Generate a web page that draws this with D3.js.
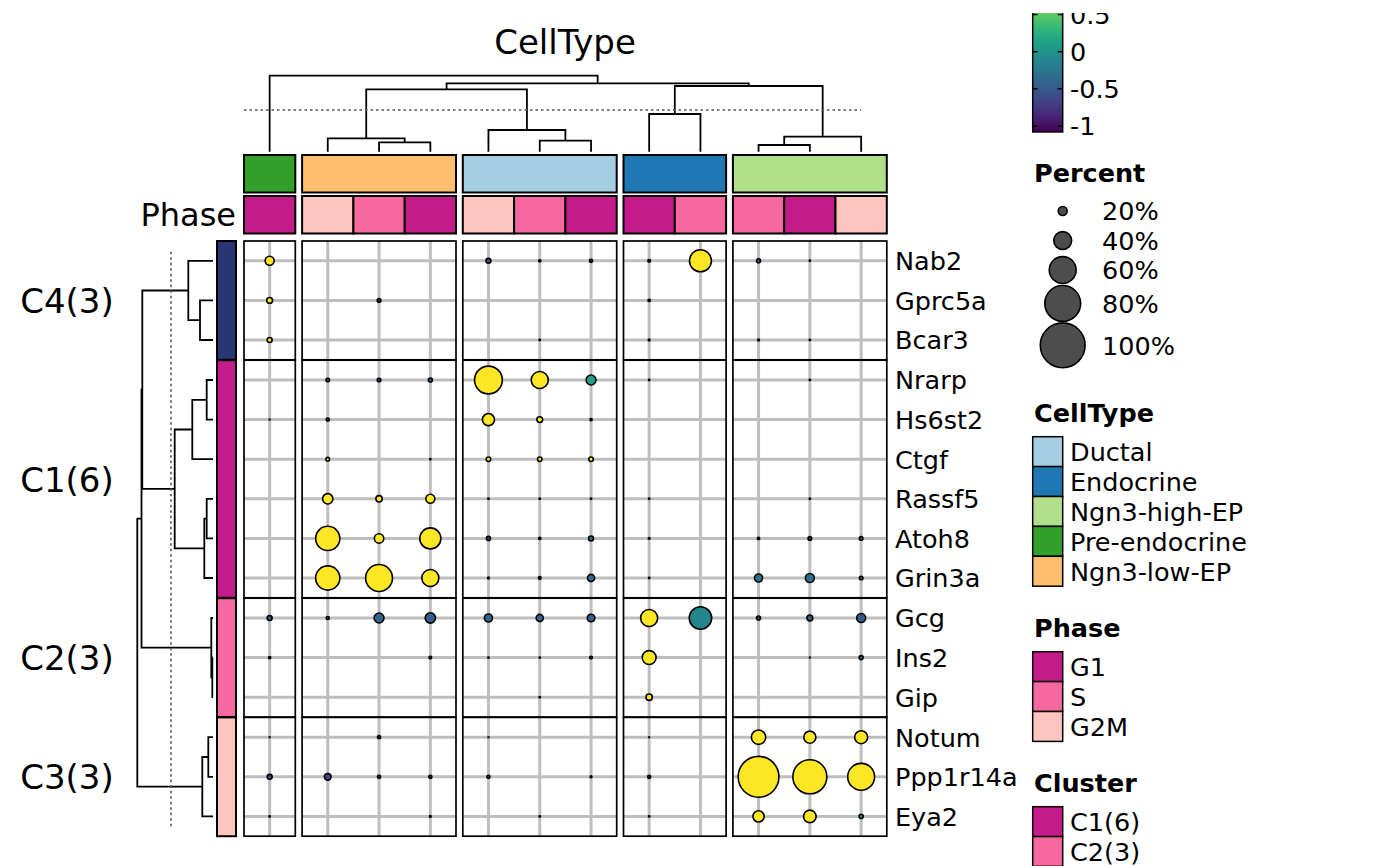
<!DOCTYPE html>
<html>
<head>
<meta charset="utf-8">
<script src="https://cdn.jsdelivr.net/npm/d3@7"></script>
<style>
body { margin: 0; background: #fff; }
text { font-family: "DejaVu Sans", sans-serif; fill: #000; }
</style>
</head>
<body>
<div id="chart"></div>
<script>
var genes = ["Nab2", "Gprc5a", "Bcar3", "Nrarp", "Hs6st2", "Ctgf", "Rassf5", "Atoh8", "Grin3a",
             "Gcg", "Ins2", "Gip", "Notum", "Ppp1r14a", "Eya2"];
var geneCluster = ["C4(3)", "C4(3)", "C4(3)", "C1(6)", "C1(6)", "C1(6)", "C1(6)", "C1(6)", "C1(6)",
                   "C2(3)", "C2(3)", "C2(3)", "C3(3)", "C3(3)", "C3(3)"];
var clusterOrder = ["C4(3)", "C1(6)", "C2(3)", "C3(3)"];
var clusterLegend = ["C1(6)", "C2(3)", "C3(3)", "C4(3)"];
var clusterColors = ["#C51B8A", "#F768A1", "#FCC5C0", "#283673"];

var colCellType = ["Pre-endocrine", "Ngn3-low-EP", "Ngn3-low-EP", "Ngn3-low-EP", "Ductal", "Ductal", "Ductal",
                   "Endocrine", "Endocrine", "Ngn3-high-EP", "Ngn3-high-EP", "Ngn3-high-EP"];
var colPhase = ["G1", "G2M", "S", "G1", "G2M", "S", "G1", "G1", "S", "S", "G1", "G2M"];
var cellTypeOrder = ["Pre-endocrine", "Ngn3-low-EP", "Ductal", "Endocrine", "Ngn3-high-EP"];
var cellTypeLegend = ["Ductal", "Endocrine", "Ngn3-high-EP", "Pre-endocrine", "Ngn3-low-EP"];
var cellTypeColors = ["#A6CEE3", "#1F78B4", "#B2DF8A", "#33A02C", "#FDBF6F"];
var phaseLegend = ["G1", "S", "G2M"];
var phaseColors = ["#C51B8A", "#F768A1", "#FCC5C0"];

// percent of cells expressing, rows = genes, cols = columns above
var percent = [
  [20, 0, 0, 0, 11, 5, 7, 6, 49, 9, 3, 0],
  [13, 0, 8, 0, 0, 0, 0, 5, 0, 0, 0, 0],
  [11, 0, 0, 0, 0, 3, 0, 4, 0, 4, 3, 0],
  [0, 8, 8, 9, 62, 38, 22, 3, 0, 0, 3, 0],
  [2, 7, 0, 0, 27, 13, 5, 0, 0, 0, 0, 0],
  [0, 8, 0, 3, 10, 10, 10, 0, 0, 0, 0, 0],
  [0, 23, 14, 20, 3, 3, 3, 3, 0, 0, 3, 0],
  [0, 54, 21, 47, 9, 5, 11, 4, 0, 5, 8, 8],
  [0, 54, 60, 38, 4, 6, 16, 3, 0, 18, 20, 8],
  [11, 7, 22, 23, 18, 16, 17, 38, 50, 9, 13, 20],
  [5, 0, 0, 6, 3, 3, 6, 31, 0, 0, 2, 9],
  [0, 0, 0, 0, 0, 3, 0, 14, 0, 0, 0, 0],
  [2, 0, 7, 0, 2, 0, 0, 2, 0, 32, 27, 29],
  [11, 15, 7, 7, 7, 0, 4, 7, 0, 91, 76, 60],
  [3, 0, 0, 4, 0, 3, 0, 3, 0, 25, 28, 9]
];
// scaled average expression
var expr = [
  [1.1, 0, 0, 0, -0.55, -0.8, -0.8, -0.8, 1.1, -0.4, -0.8, 0],
  [1.1, 0, -0.8, 0, 0, 0, 0, -0.8, 0, 0, 0, 0],
  [1.1, 0, 0, 0, 0, -0.8, 0, -0.8, 0, -0.8, -0.8, 0],
  [0, -0.8, -0.8, -0.45, 1.1, 1.1, 0.1, -0.8, 0, 0, -0.8, 0],
  [-0.8, -0.8, 0, 0, 1.1, 1.1, -0.8, 0, 0, 0, 0, 0],
  [0, 1.1, 0, -0.8, 1.1, 1.1, 1.1, 0, 0, 0, 0, 0],
  [0, 1.1, 1.1, 1.1, -0.8, -0.8, -0.8, -0.8, 0, 0, -0.8, 0],
  [0, 1.1, 1.1, 1.1, -0.7, -0.8, -0.3, -0.8, 0, -0.8, -0.7, -0.4],
  [0, 1.1, 1.1, 1.1, -0.8, -0.8, -0.35, -0.8, 0, -0.3, -0.3, -0.6],
  [-0.5, -0.8, -0.4, -0.45, -0.4, -0.4, -0.45, 1.1, -0.12, -0.8, -0.4, -0.5],
  [-0.8, 0, 0, -0.8, -0.8, -0.8, -0.8, 1.1, 0, 0, -0.8, -0.45],
  [0, 0, 0, 0, 0, -0.8, 0, 1.1, 0, 0, 0, 0],
  [-0.8, 0, -0.8, 0, -0.8, 0, 0, -0.8, 0, 1.1, 1.1, 1.1],
  [-0.6, -0.7, -0.8, -0.8, -0.8, 0, -0.8, -0.8, 0, 1.1, 1.1, 1.1],
  [-0.8, 0, 0, -0.8, 0, -0.8, 0, -0.8, 0, 1.1, 1.1, 0.05]
];

// dendrograms: [height, left, right], leaves are column / row indices
var colTree = [7.6, 0, [6.84, [6.24, [1.34, 1, [0.94, 2, 3]], [2.17, 4, [1.1, 5, 6]]],
                             [6.57, [3.77, 7, 8], [1.5, [0.67, 9, 10], 11]]]];
var colCut = 4.17;
var rowTree = [7.57, [7.15, [7.07, [2.47, 0, [1.3, 1, 2]],
                                   [3.83, [2.07, [0.63, 3, 4], 5], [0.87, [0.63, 6, 7], 8]]],
                            [0.17, 9, [0.07, 10, 11]]],
                     [1.07, [0.47, 12, 13], 14]];
var rowCut = 4.2;

var sizeBreaks = [20, 40, 60, 80, 100];
var colorTicks = [-1, -0.5, 0, 0.5, 1];
var colorDomain = [-1.08, 1.03];

var W = 1400, H = 866;
var svg = d3.select("#chart").append("svg")
  .attr("width", W)
  .attr("height", H);

var colW = 51.3, colGap = 6.8, rowH = 39.6, rowGap = 0.4;
var bodyX = 244, bodyY = 241;
var colGroup = colCellType.map(function(c) { return cellTypeOrder.indexOf(c); });
var rowGroup = geneCluster.map(function(c) { return clusterOrder.indexOf(c); });

var xBand = d3.scaleBand().domain(d3.range(colCellType.length)).range([0, colW * colCellType.length]);
var yBand = d3.scaleBand().domain(d3.range(genes.length)).range([0, rowH * genes.length]);
function colLeft(i) { return bodyX + xBand(i) + colGroup[i] * colGap; }
function rowTop(j) { return bodyY + yBand(j) + rowGroup[j] * rowGap; }
function cx(i) { return colLeft(i) + xBand.bandwidth() / 2; }
function cy(j) { return rowTop(j) + yBand.bandwidth() / 2; }

var size = d3.scaleLinear().domain([0, 100]).range([0, 22.4]);
var color = d3.scaleSequential(d3.interpolateViridis).domain(colorDomain).clamp(true);

function groupExtent(groups, n, left, band) {
  return n.map(function(g) {
    var idx = d3.range(groups.length).filter(function(k) { return groups[k] === g; });
    return { g: g, idx: idx, a: left(idx[0]), b: left(idx[idx.length - 1]) + band.bandwidth() };
  });
}
var colBlocks = groupExtent(colGroup, d3.range(cellTypeOrder.length), colLeft, xBand);
var rowBlocks = groupExtent(rowGroup, d3.range(clusterOrder.length), rowTop, yBand);

// body blocks
colBlocks.forEach(function(cb) {
  rowBlocks.forEach(function(rb) {
    var blk = svg.append("g");
    blk.append("rect")
      .attr("x", cb.a).attr("y", rb.a)
      .attr("width", cb.b - cb.a).attr("height", rb.b - rb.a)
      .attr("fill", "white");
    blk.selectAll("line.v").data(cb.idx).enter().append("line")
      .attr("x1", cx).attr("x2", cx)
      .attr("y1", rb.a).attr("y2", rb.b)
      .attr("stroke", "#bebebe").attr("stroke-width", 3);
    blk.selectAll("line.h").data(rb.idx).enter().append("line")
      .attr("y1", cy).attr("y2", cy)
      .attr("x1", cb.a).attr("x2", cb.b)
      .attr("stroke", "#bebebe").attr("stroke-width", 3);
  });
});

var cells = [];
genes.forEach(function(g, j) {
  colCellType.forEach(function(c, i) {
    if (percent[j][i] > 0) cells.push({ i: i, j: j, p: percent[j][i], v: expr[j][i] });
  });
});
svg.append("g").selectAll("circle")
  .data(cells)
  .enter()
  .append("circle")
  .attr("cx", function(d) { return cx(d.i); })
  .attr("cy", function(d) { return cy(d.j); })
  .attr("r", function(d) { return size(d.p); })
  .attr("fill", function(d) { return color(d.v); })
  .attr("stroke", "black")
  .attr("stroke-width", 1.6);

colBlocks.forEach(function(cb) {
  rowBlocks.forEach(function(rb) {
    svg.append("rect")
      .attr("x", cb.a).attr("y", rb.a)
      .attr("width", cb.b - cb.a).attr("height", rb.b - rb.a)
      .attr("fill", "none").attr("stroke", "black").attr("stroke-width", 1.7);
  });
});

// column annotations
svg.append("g").selectAll("rect")
  .data(colBlocks)
  .enter()
  .append("rect")
  .attr("x", function(d) { return d.a; })
  .attr("y", 155)
  .attr("width", function(d) { return d.b - d.a; })
  .attr("height", 37.5)
  .attr("fill", function(d) { return cellTypeColors[cellTypeLegend.indexOf(cellTypeOrder[d.g])]; })
  .attr("stroke", "black").attr("stroke-width", 2);

svg.append("g").selectAll("rect")
  .data(colPhase)
  .enter()
  .append("rect")
  .attr("x", function(d, i) { return colLeft(i); })
  .attr("y", 196)
  .attr("width", xBand.bandwidth())
  .attr("height", 37.5)
  .attr("fill", function(d) { return phaseColors[phaseLegend.indexOf(d)]; })
  .attr("stroke", "black").attr("stroke-width", 2);

svg.append("text")
  .attr("x", 236).attr("y", 226)
  .attr("text-anchor", "end")
  .style("font-size", "32px")
  .text("Phase");

svg.append("text")
  .attr("x", 565).attr("y", 53.5)
  .attr("text-anchor", "middle")
  .style("font-size", "34px")
  .text("CellType");

// row annotation
svg.append("g").selectAll("rect")
  .data(rowBlocks)
  .enter()
  .append("rect")
  .attr("x", 217)
  .attr("y", function(d) { return d.a; })
  .attr("width", 19)
  .attr("height", function(d) { return d.b - d.a; })
  .attr("fill", function(d) { return clusterColors[clusterLegend.indexOf(clusterOrder[d.g])]; })
  .attr("stroke", "black").attr("stroke-width", 2);

svg.append("g").selectAll("text")
  .data(rowBlocks)
  .enter()
  .append("text")
  .attr("x", 67)
  .attr("y", function(d) { return (d.a + d.b) / 2; })
  .attr("dy", "0.37em")
  .attr("text-anchor", "middle")
  .style("font-size", "34px")
  .text(function(d) { return clusterOrder[d.g]; });

svg.append("g").selectAll("text")
  .data(genes)
  .enter()
  .append("text")
  .attr("x", 895)
  .attr("y", function(d, j) { return cy(j); })
  .attr("dy", "0.37em")
  .style("font-size", "25.5px")
  .text(function(d) { return d; });

// dendrograms
function drawTree(g, node, leafPos, hpos, vertical) {
  if (typeof node === "number") return { p: leafPos(node), h: 0 };
  var l = drawTree(g, node[1], leafPos, hpos, vertical);
  var r = drawTree(g, node[2], leafPos, hpos, vertical);
  var d;
  if (vertical) {
    d = "M" + l.p + "," + hpos(l.h) + "V" + hpos(node[0]) + "H" + r.p + "V" + hpos(r.h);
  } else {
    d = "M" + hpos(l.h) + "," + l.p + "H" + hpos(node[0]) + "V" + r.p + "H" + hpos(r.h);
  }
  g.append("path").attr("d", d)
    .attr("fill", "none").attr("stroke", "black").attr("stroke-width", 1.8);
  return { p: (l.p + r.p) / 2, h: node[0] };
}

var colH = d3.scaleLinear().domain([0, colTree[0]]).range([151.7, 75.7]);
drawTree(svg.append("g"), colTree, cx, colH, true);
svg.append("line")
  .attr("x1", bodyX).attr("x2", cx(colCellType.length - 1))
  .attr("y1", colH(colCut)).attr("y2", colH(colCut))
  .attr("stroke", "#555").attr("stroke-width", 1.6).attr("stroke-dasharray", "2.5,3");

var rowHs = d3.scaleLinear().domain([0, rowTree[0]]).range([213, 137.3]);
drawTree(svg.append("g"), rowTree, cy, rowHs, false);
svg.append("line")
  .attr("y1", cy(0) - 9).attr("y2", cy(genes.length - 1) + 10)
  .attr("x1", rowHs(rowCut)).attr("x2", rowHs(rowCut))
  .attr("stroke", "#555").attr("stroke-width", 1.6).attr("stroke-dasharray", "2.5,3");

// colour bar legend, its top is cut off by the legend viewport
var lx = 1032.7;
var cbar = d3.scaleLinear().domain([-1, 0]).range([126, 51.7]);
var defs = svg.append("defs");
defs.append("clipPath").attr("id", "legclip")
  .append("rect").attr("x", 1000).attr("y", 13).attr("width", 400).attr("height", 200);
var grad = defs.append("linearGradient")
  .attr("id", "vir").attr("x1", 0).attr("x2", 0).attr("y1", 1).attr("y2", 0);
d3.range(0, 1.001, 0.05).forEach(function(t) {
  grad.append("stop").attr("offset", t)
    .attr("stop-color", color(colorDomain[0] + t * (colorDomain[1] - colorDomain[0])));
});
var cb = svg.append("g").attr("clip-path", "url(#legclip)");
cb.append("rect")
  .attr("x", lx).attr("y", cbar(colorDomain[1]))
  .attr("width", 30).attr("height", cbar(colorDomain[0]) - cbar(colorDomain[1]))
  .attr("fill", "url(#vir)").attr("stroke", "black").attr("stroke-width", 1.5);
colorTicks.forEach(function(t) {
  cb.append("line").attr("x1", lx).attr("x2", lx + 5)
    .attr("y1", cbar(t)).attr("y2", cbar(t)).attr("stroke", "black").attr("stroke-width", 1.5);
  cb.append("line").attr("x1", lx + 25).attr("x2", lx + 30)
    .attr("y1", cbar(t)).attr("y2", cbar(t)).attr("stroke", "black").attr("stroke-width", 1.5);
  cb.append("text").attr("x", 1070).attr("y", cbar(t)).attr("dy", "0.37em")
    .style("font-size", "25.5px").text(t);
});

// size legend
svg.append("text").attr("x", 1034).attr("y", 181.7)
  .style("font-size", "25.5px").style("font-weight", "bold").text("Percent");
var sy = 196.3;
sizeBreaks.forEach(function(p) {
  var h = Math.max(29.5, 2 * size(p) + 1.5);
  var yc = sy + h / 2;
  svg.append("circle").attr("cx", 1062.7).attr("cy", yc).attr("r", size(p))
    .attr("fill", "#4d4d4d").attr("stroke", "black").attr("stroke-width", 1.6);
  svg.append("text").attr("x", 1102).attr("y", yc).attr("dy", "0.37em")
    .style("font-size", "25.5px").text(p + "%");
  sy += h;
});

function boxLegend(title, titleY, labels, colors) {
  svg.append("text").attr("x", 1034).attr("y", titleY)
    .style("font-size", "25.5px").style("font-weight", "bold").text(title);
  var top = titleY + 15;
  var g = svg.append("g");
  g.selectAll("rect").data(labels).enter().append("rect")
    .attr("x", lx).attr("y", function(d, i) { return top + i * 29.9; })
    .attr("width", 30).attr("height", 29.9)
    .attr("fill", function(d, i) { return colors[i]; })
    .attr("stroke", "black").attr("stroke-width", 1.5);
  g.selectAll("text").data(labels).enter().append("text")
    .attr("x", 1070).attr("y", function(d, i) { return top + i * 29.9 + 15; })
    .attr("dy", "0.37em")
    .style("font-size", "25.5px").text(function(d) { return d; });
}
boxLegend("CellType", 421.7, cellTypeLegend, cellTypeColors);
boxLegend("Phase", 636.7, phaseLegend, phaseColors);
boxLegend("Cluster", 791.7, clusterLegend, clusterColors);
</script>
</body>
</html>
